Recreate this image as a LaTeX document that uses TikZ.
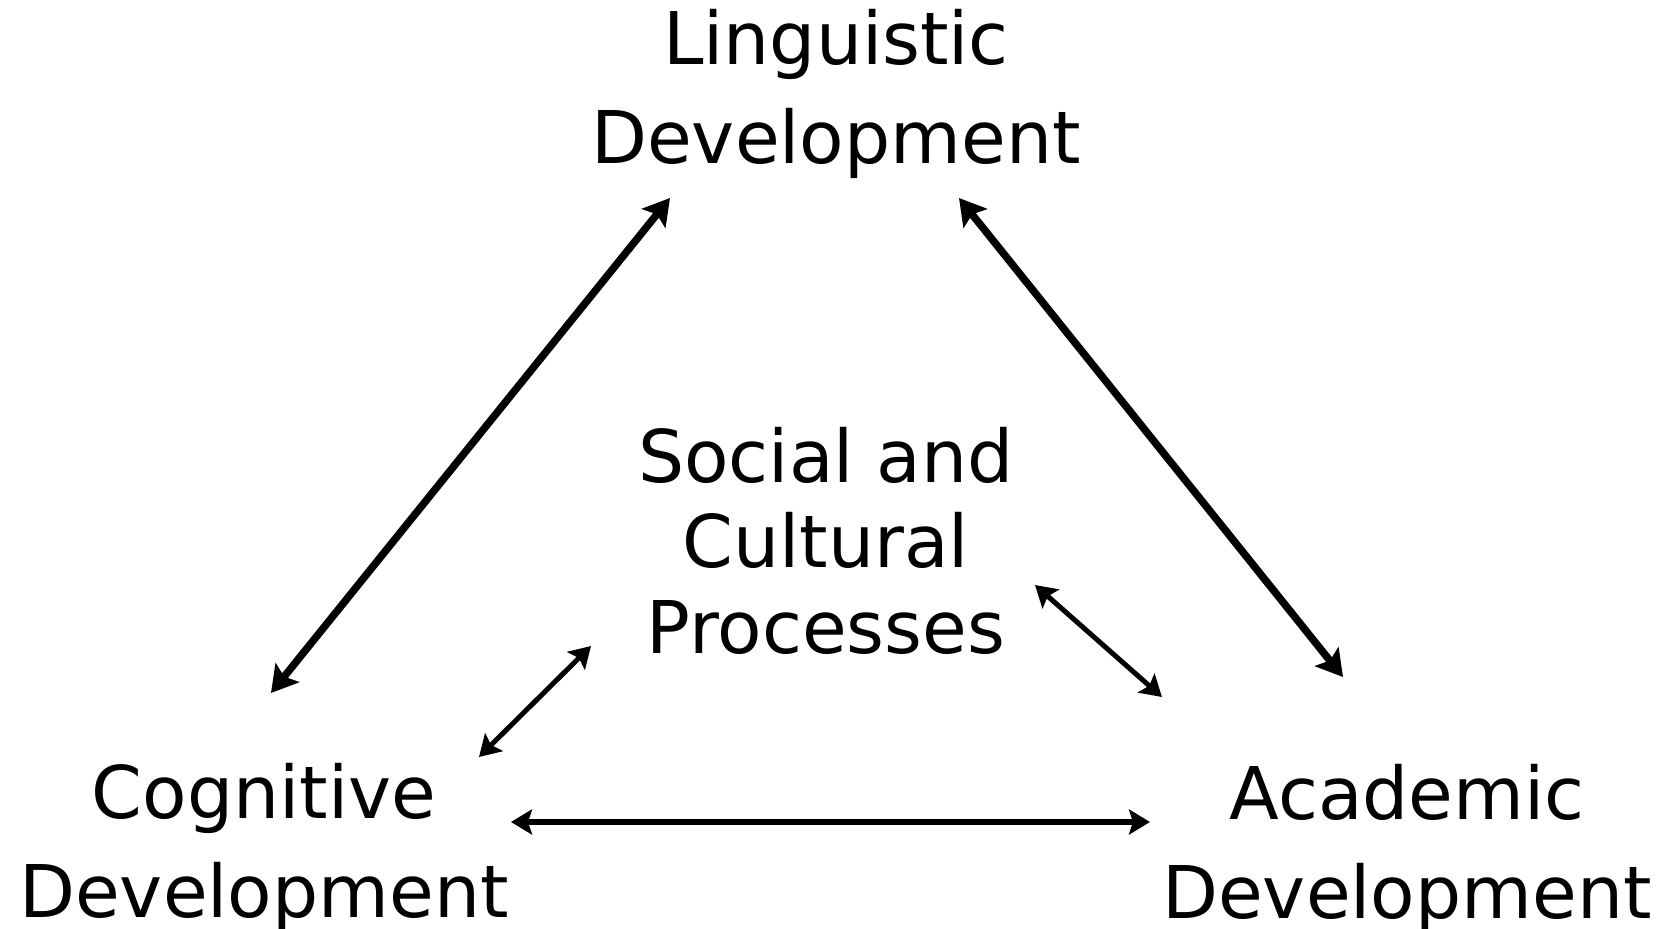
\documentclass[tikz,border=0pt]{standalone}
\usepackage{fontspec}
\setmainfont{DejaVu Sans}
\usetikzlibrary{arrows.meta}
\begin{document}
\begin{tikzpicture}[x=1pt,y=-1pt,
  lbl/.style={font=\fontsize{72.7}{99}\selectfont, align=center, inner sep=0pt, anchor=base},
  midlbl/.style={lbl, font=\fontsize{72.7}{85.5}\selectfont},
  longarr/.style={line width=7.5pt, {Stealth[length=26pt,width=30pt,inset=5pt]}-{Stealth[length=26pt,width=30pt,inset=5pt]}},
  horarr/.style={line width=5.5pt, {Stealth[length=21pt,width=25pt,inset=4pt]}-{Stealth[length=21pt,width=25pt,inset=4pt]}},
  shortarr/.style={line width=5pt, {Stealth[length=21pt,width=25pt,inset=4pt]}-{Stealth[length=21pt,width=25pt,inset=4pt]}}
]
\useasboundingbox (0,0) rectangle (1671,929);
\node[lbl] (ling) at (836,163) {Linguistic\\Development};
\node[midlbl] (soc) at (826,653) {Social and\\Cultural\\Processes};
\node[lbl] (cog) at (264,917) {Cognitive\\Development};
\node[lbl] (acad) at (1407,918) {Academic\\Development};
\coordinate (lingL) at (670,198);
\coordinate (cogT) at (271,693);
\coordinate (lingR) at (959,198);
\coordinate (acadT) at (1343,677);
\coordinate (socR) at (1035,585);
\coordinate (acadL) at (1162,697);
\coordinate (socL) at (591,646);
\coordinate (cogR) at (479,757);
\coordinate (cogE) at (511,822);
\coordinate (acadW) at (1150,822);
\draw[longarr] (cogT) -- (lingL);
\draw[longarr] (lingR) -- (acadT);
\draw[shortarr] (socR) -- (acadL);
\draw[shortarr] (cogR) -- (socL);
\draw[horarr] (cogE) -- (acadW);
\end{tikzpicture}
\end{document}
